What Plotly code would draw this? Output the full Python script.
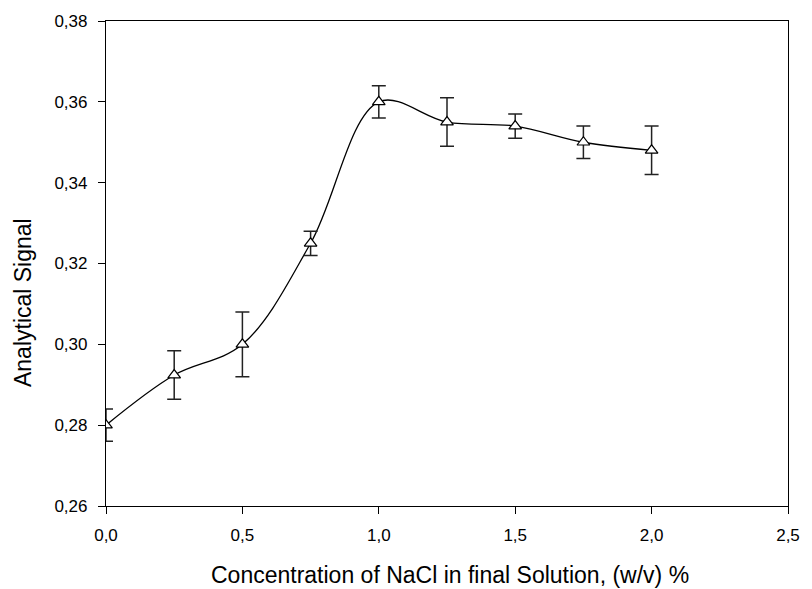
import plotly.graph_objects as go

nacl = [0.0, 0.25, 0.5, 0.75, 1.0, 1.25, 1.5, 1.75, 2.0]
signal = [0.280, 0.2924, 0.300, 0.325, 0.360, 0.355, 0.354, 0.350, 0.348]
err = [0.004, 0.006, 0.008, 0.003, 0.004, 0.006, 0.003, 0.004, 0.006]

x_title = "Concentration of NaCl in final Solution, (w/v) %"
y_title = "Analytical Signal"

fig = go.Figure()
fig.add_trace(go.Scatter(
    x=nacl, y=signal, mode="lines",
    line=dict(color="black", width=1.3, shape="spline", smoothing=1.0),
    hoverinfo="skip", showlegend=False,
))
fig.add_trace(go.Scatter(
    x=nacl, y=signal, mode="markers",
    marker=dict(symbol="triangle-up", size=11, color="white",
                line=dict(color="black", width=1.2)),
    error_y=dict(type="data", array=err, visible=True, color="#222222",
                 thickness=1.5, width=7),
    showlegend=False,
))

font = "Liberation Sans, Arial, sans-serif"
fig.update_layout(
    width=812, height=589,
    margin=dict(l=106, r=15, t=21, b=83),
    plot_bgcolor="white", paper_bgcolor="white",
    separators=",.",
    font=dict(family=font, size=17, color="black"),
    xaxis=dict(range=[0, 2.5], tick0=0, dtick=0.5, tickformat=".1f",
               showgrid=False, zeroline=False, showline=True, linecolor="black",
               linewidth=1.2, mirror=True, ticks="outside", ticklen=7,
               tickcolor="black", tickwidth=1.2, ticklabelstandoff=6),
    yaxis=dict(range=[0.26, 0.38], tick0=0.26, dtick=0.02, tickformat=".2f",
               showgrid=False, zeroline=False, showline=True, linecolor="black",
               linewidth=1.2, mirror=True, ticks="outside", ticklen=7,
               tickcolor="black", tickwidth=1.2, ticklabelstandoff=7),
    annotations=[
        dict(text=x_title, xref="paper", yref="paper", x=0.505, y=-0.142,
             xanchor="center", yanchor="middle", showarrow=False,
             font=dict(size=23, family=font)),
        dict(text=y_title, xref="paper", yref="paper", x=-0.1216, y=0.4186,
             xanchor="center", yanchor="middle", showarrow=False, textangle=-90,
             font=dict(size=23, family=font)),
    ],
)
fig.write_html("out.html", config={"displayModeBar": False},
               post_script="document.body.style.margin='0';document.body.style.overflow='hidden';")
